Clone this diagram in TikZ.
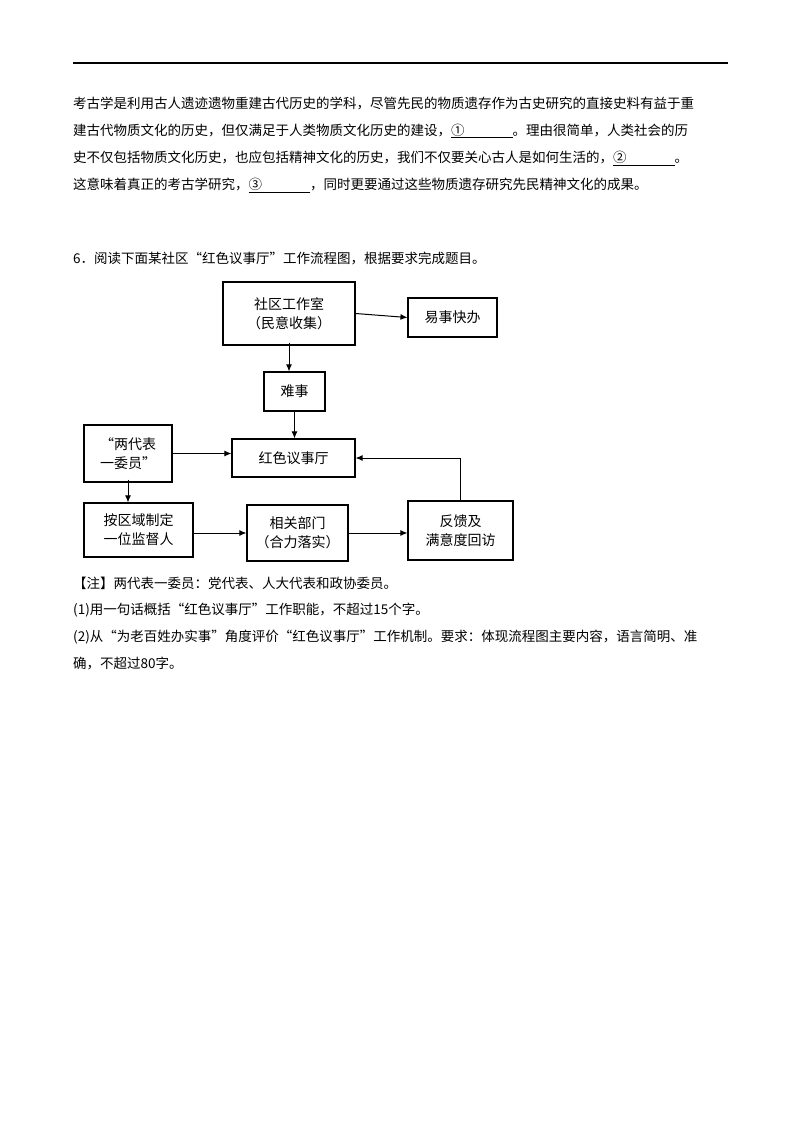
\documentclass[tikz,border=0pt]{standalone}
\usepackage{fontspec}
\setmainfont{Noto Sans CJK SC}
\begin{document}
\begin{tikzpicture}[x=1pt,y=-1pt,
  txt/.style={anchor=west,inner sep=0pt,font=\fontsize{13.5}{16}\selectfont},
  box/.style={draw,line width=1.1pt,align=center,inner sep=0pt,font=\fontsize{14}{19}\selectfont},
  arr/.style={-{Latex[length=7pt,width=6pt]},line width=1pt}]
\usetikzlibrary{arrows.meta}
\useasboundingbox[fill=white] (0,0) rectangle (800,1132);
\draw[line width=1.2pt] (73,63) -- (728,63);
\node[txt] (p1) at (73,103) {考古学是利用古人遗迹遗物重建古代历史的学科，尽管先民的物质遗存作为古史研究的直接史料有益于重};
\node[txt] (p2) at (73,131) {建古代物质文化的历史，但仅满足于人类物质文化历史的建设，\underline{①\hspace{48pt}}。理由很简单，人类社会的历};
\node[txt] (p3) at (73,158) {史不仅包括物质文化历史，也应包括精神文化的历史，我们不仅要关心古人是如何生活的，\underline{②\hspace{48pt}}。};
\node[txt] (p4) at (73,185) {这意味着真正的考古学研究，\underline{③\hspace{48pt}}，同时更要通过这些物质遗存研究先民精神文化的成果。};
\node[txt] (q) at (73,258) {6．阅读下面某社区“红色议事厅”工作流程图，根据要求完成题目。};

\node[box,minimum width=132pt,minimum height=63pt] (a) at (289,313.5) {社区工作室\\（民意收集）};
\node[box,minimum width=89pt,minimum height=39pt] (b) at (452.5,317.5) {易事快办};
\node[box,minimum width=61pt,minimum height=39pt] (c) at (294.5,391.5) {难事};
\node[box,minimum width=123pt,minimum height=38pt] (d) at (293.5,458) {红色议事厅};
\node[box,minimum width=88pt,minimum height=57pt] (e) at (128,453.5) {“两代表\\一委员”};
\node[box,minimum width=109pt,minimum height=54pt] (f) at (138.5,530) {按区域制定\\一位监督人};
\node[box,minimum width=101pt,minimum height=56pt] (g) at (297.5,533) {相关部门\\（合力落实）};
\node[box,minimum width=105pt,minimum height=59pt] (h) at (460.5,530.5) {反馈及\\满意度回访};

\draw[arr] (a.east) -- (b.west);
\draw[arr] ([yshift=3pt]a.south) -- (c.north -| a.south);
\draw[arr] (c.south) -- (d.north -| c.south);
\draw[arr] (e.east) -- (d.west |- e.east);
\draw[arr] ([yshift=3pt]e.south) -- (e.south |- f.north);
\draw[arr] (f.east |- g.west) -- (g.west);
\draw[arr] (g.east) -- (h.west |- g.east);
\draw[arr] (h.north) -- (h.north |- d.east) -- (d.east);

\node[txt] (n1) at (73,583) {【注】两代表一委员：党代表、人大代表和政协委员。};
\node[txt] (n2) at (73,610) {(1)用一句话概括“红色议事厅”工作职能，不超过15个字。};
\node[txt] (n3) at (73,637) {(2)从“为老百姓办实事”角度评价“红色议事厅”工作机制。要求：体现流程图主要内容，语言简明、准};
\node[txt] (n4) at (73,663) {确，不超过80字。};
\end{tikzpicture}
\end{document}
